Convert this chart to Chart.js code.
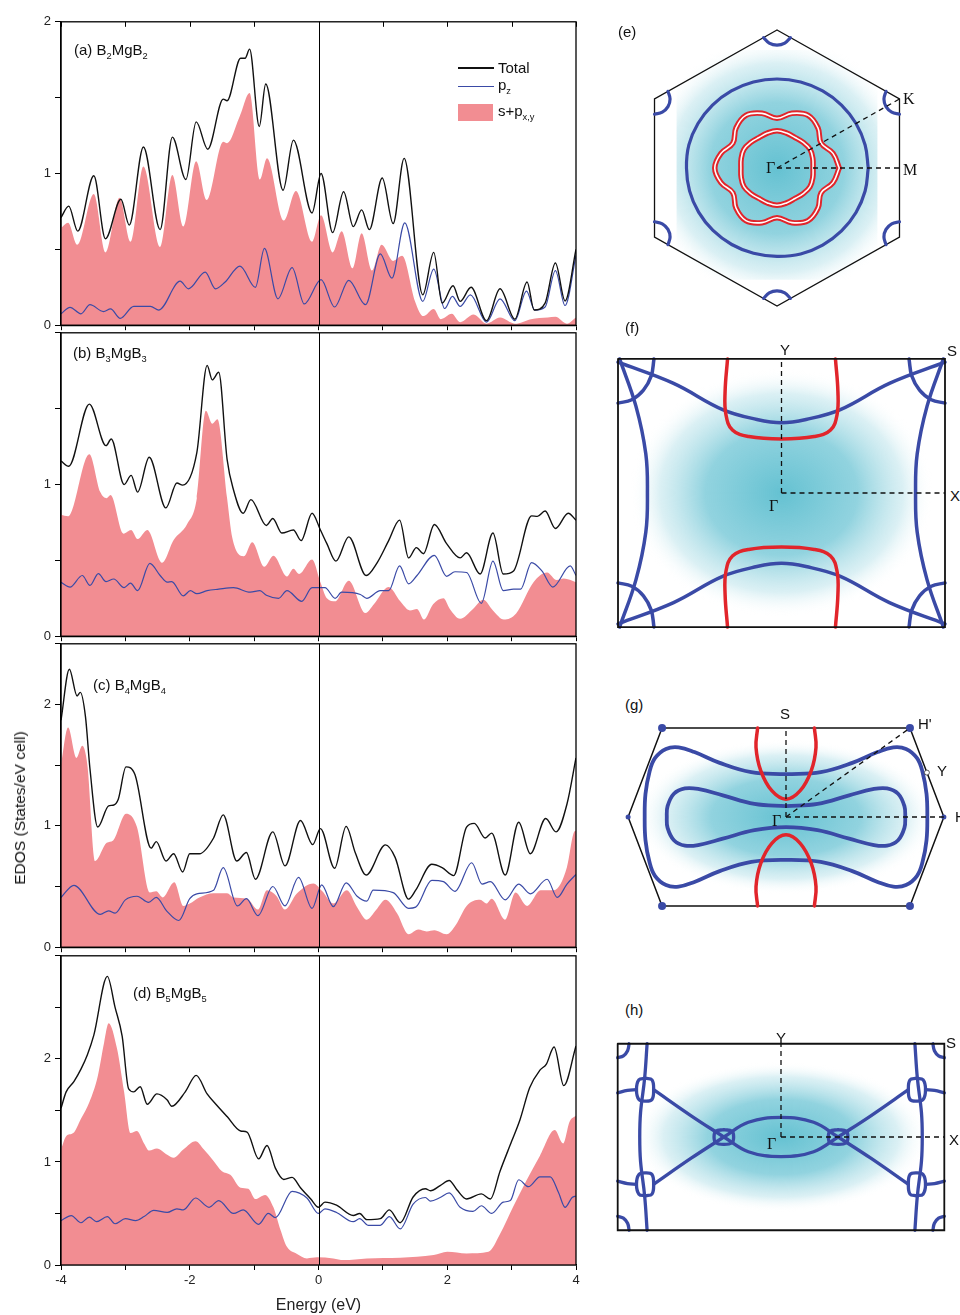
<!DOCTYPE html>
<html>
<head>
<meta charset="utf-8">
<script src="https://cdn.jsdelivr.net/npm/chart.js@4.4.1/dist/chart.umd.min.js"></script>
<style>
  body { margin: 0; background: #fff; }
  #page { position: relative; width: 960px; height: 1315px; overflow: hidden;
          font-family: "Liberation Sans", Arial, sans-serif; color: #111; }
  #page canvas { position: absolute; }
  .lbl { position: absolute; white-space: nowrap; line-height: 16px; font-size: 15px; }
  .lbl sub { font-size: 0.62em; vertical-align: baseline; position: relative; top: 0.38em; }
  .serif { font-family: "Liberation Serif", "Times New Roman", serif; font-size: 16px; }
  .key { position: absolute; }
</style>
</head>
<body>
<div id="page">
  <canvas id="dosA" width="590" height="327" style="left:0;top:10px"></canvas>
  <canvas id="dosB" width="590" height="327" style="left:0;top:321px"></canvas>
  <canvas id="dosC" width="590" height="327" style="left:0;top:632px"></canvas>
  <canvas id="dosD" width="590" height="371" style="left:0;top:944px"></canvas>

  <canvas id="fsE" width="314" height="308" style="left:620px;top:14px"></canvas>
  <canvas id="fsF" width="337" height="280" style="left:613px;top:353px"></canvas>
  <canvas id="fsG" width="338" height="200" style="left:617px;top:717px"></canvas>
  <canvas id="fsH" width="340" height="200" style="left:611px;top:1037px"></canvas>

  <!-- panel titles -->
  <div class="lbl" style="left:74px;top:42px">(a) B<sub>2</sub>MgB<sub>2</sub></div>
  <div class="lbl" style="left:73px;top:345px">(b) B<sub>3</sub>MgB<sub>3</sub></div>
  <div class="lbl" style="left:93px;top:677px">(c) B<sub>4</sub>MgB<sub>4</sub></div>
  <div class="lbl" style="left:133px;top:985px">(d) B<sub>5</sub>MgB<sub>5</sub></div>

  <!-- legend of panel (a) -->
  <div class="key" style="left:458px;top:67px;width:36px;height:1.5px;background:#111"></div>
  <div class="lbl" style="left:498px;top:60px">Total</div>
  <div class="key" style="left:458px;top:86px;width:36px;height:1.3px;background:#3a4aa6"></div>
  <div class="lbl" style="left:498px;top:77px">p<sub>z</sub></div>
  <div class="key" style="left:458px;top:104px;width:35px;height:17px;background:rgb(242,141,146)"></div>
  <div class="lbl" style="left:498px;top:103px">s+p<sub>x,y</sub></div>

  <div class="lbl" style="left:20px;top:808px;font-size:15.5px;transform:translate(-50%,-50%) rotate(-90deg)">EDOS (States/eV cell)</div>

  <!-- Fermi surface labels -->
  <div class="lbl" style="left:618px;top:24px">(e)</div>
  <div class="lbl serif" style="left:903px;top:91px">K</div>
  <div class="lbl serif" style="left:903px;top:162px">M</div>
  <div class="lbl serif" style="left:766px;top:160px">Γ</div>

  <div class="lbl" style="left:625px;top:320px">(f)</div>
  <div class="lbl" style="left:780px;top:342px">Y</div>
  <div class="lbl" style="left:947px;top:343px">S</div>
  <div class="lbl" style="left:950px;top:488px">X</div>
  <div class="lbl serif" style="left:769px;top:498px">Γ</div>

  <div class="lbl" style="left:625px;top:697px">(g)</div>
  <div class="lbl" style="left:780px;top:706px">S</div>
  <div class="lbl" style="left:918px;top:716px">H'</div>
  <div class="lbl" style="left:937px;top:763px">Y</div>
  <div class="lbl" style="left:955px;top:809px">H</div>
  <div class="lbl serif" style="left:772px;top:813px">Γ</div>

  <div class="lbl" style="left:625px;top:1002px">(h)</div>
  <div class="lbl" style="left:776px;top:1030px">Y</div>
  <div class="lbl" style="left:946px;top:1035px">S</div>
  <div class="lbl" style="left:949px;top:1132px">X</div>
  <div class="lbl serif" style="left:767px;top:1136px">Γ</div>
</div>

<script>
// ---------------------------------------------------------------
// DOS curves, [energy (eV), states] pairs
// ---------------------------------------------------------------
const aTotal = [[-4,0.71],[-3.88,0.785],[-3.74,0.62],[-3.49,0.985],[-3.31,0.57],[-3.07,0.83],[-2.94,0.66],[-2.72,1.175],[-2.46,0.63],[-2.27,1.24],[-2.06,0.96],[-1.9,1.34],[-1.72,1.16],[-1.48,1.49],[-1.42,1.48],[-1.21,1.76],[-1.14,1.76],[-1.07,1.82],[-0.92,1.31],[-0.82,1.59],[-0.55,0.89],[-0.39,1.22],[-0.1,0.74],[0.04,1.0],[0.22,0.61],[0.39,0.88],[0.54,0.65],[0.67,0.76],[0.79,0.63],[0.99,0.97],[1.16,0.67],[1.33,1.1],[1.62,0.2],[1.79,0.48],[1.92,0.146],[2.09,0.26],[2.2,0.157],[2.37,0.25],[2.61,0.03],[2.82,0.24],[3.05,0.04],[3.24,0.285],[3.35,0.1],[3.52,0.146],[3.68,0.41],[3.83,0.16],[4,0.5]];
const aPz = [[-4,0.075],[-3.86,0.118],[-3.69,0.075],[-3.55,0.135],[-3.34,0.09],[-3.23,0.107],[-3.08,0.045],[-2.87,0.124],[-2.61,0.124],[-2.48,0.1],[-2.15,0.29],[-2.02,0.24],[-1.76,0.35],[-1.6,0.24],[-1.45,0.285],[-1.22,0.39],[-0.98,0.25],[-0.84,0.506],[-0.63,0.174],[-0.41,0.38],[-0.22,0.14],[0.04,0.3],[0.25,0.12],[0.47,0.296],[0.73,0.135],[0.96,0.47],[1.14,0.31],[1.34,0.675],[1.62,0.157],[1.79,0.37],[1.96,0.11],[2.08,0.19],[2.2,0.124],[2.36,0.2],[2.61,0.02],[2.82,0.174],[3.05,0.03],[3.23,0.225],[3.36,0.1],[3.52,0.12],[3.68,0.36],[3.83,0.13],[4,0.46]];
const aSpxy = [[-4,0.64],[-3.89,0.675],[-3.75,0.53],[-3.49,0.865],[-3.31,0.48],[-3.09,0.84],[-2.92,0.55],[-2.72,1.046],[-2.46,0.516],[-2.27,0.99],[-2.1,0.65],[-1.9,1.08],[-1.74,0.825],[-1.48,1.21],[-1.42,1.2],[-1.22,1.38],[-1.07,1.53],[-0.91,0.96],[-0.8,1.1],[-0.54,0.69],[-0.35,0.885],[-0.1,0.55],[0.04,0.725],[0.22,0.48],[0.36,0.62],[0.53,0.375],[0.67,0.606],[0.83,0.36],[0.98,0.53],[1.16,0.424],[1.3,0.457],[1.5,0.157],[1.63,0.06],[1.79,0.107],[1.9,0.04],[2.07,0.075],[2.2,0.02],[2.41,0.07],[2.61,0.01],[2.82,0.05],[3.05,0.01],[3.3,0.04],[3.56,0.05],[3.68,0.055],[3.86,0.01],[4,0.05]];

const bTotal = [[-4,1.155],[-3.88,1.12],[-3.56,1.53],[-3.3,1.256],[-3.22,1.3],[-3.02,1.0],[-2.91,1.06],[-2.81,0.95],[-2.63,1.18],[-2.37,0.846],[-2.2,1.01],[-2.11,0.996],[-1.89,1.21],[-1.73,1.785],[-1.65,1.69],[-1.55,1.74],[-1.42,1.166],[-1.32,0.964],[-1.17,0.81],[-1.05,0.9],[-0.81,0.73],[-0.71,0.776],[-0.57,0.68],[-0.39,0.7],[-0.27,0.63],[-0.1,0.81],[0.03,0.7],[0.13,0.61],[0.27,0.495],[0.47,0.655],[0.74,0.4],[0.91,0.484],[1.09,0.63],[1.26,0.765],[1.4,0.516],[1.52,0.584],[1.63,0.544],[1.8,0.736],[1.99,0.61],[2.2,0.516],[2.3,0.55],[2.51,0.41],[2.71,0.68],[2.87,0.41],[3.03,0.43],[3.31,0.793],[3.4,0.79],[3.52,0.825],[3.68,0.71],[3.88,0.81],[4,0.765]];
const bPz = [[-4,0.356],[-3.86,0.324],[-3.67,0.4],[-3.55,0.335],[-3.42,0.413],[-3.3,0.36],[-3.18,0.377],[-3.02,0.32],[-2.92,0.35],[-2.81,0.3],[-2.62,0.48],[-2.46,0.4],[-2.35,0.356],[-2.28,0.36],[-2.1,0.266],[-1.99,0.3],[-1.89,0.28],[-1.73,0.3],[-1.55,0.31],[-1.32,0.32],[-1.06,0.29],[-0.91,0.3],[-0.81,0.27],[-0.62,0.25],[-0.49,0.3],[-0.26,0.23],[-0.1,0.32],[0.1,0.32],[0.26,0.25],[0.36,0.29],[0.65,0.275],[0.75,0.25],[0.96,0.3],[1.09,0.3],[1.26,0.463],[1.4,0.345],[1.53,0.4],[1.8,0.533],[1.99,0.395],[2.12,0.425],[2.3,0.42],[2.53,0.217],[2.71,0.495],[2.87,0.3],[3.03,0.31],[3.14,0.31],[3.31,0.485],[3.47,0.43],[3.64,0.324],[3.91,0.463],[4,0.4]];
const bSpxy = [[-4,0.8],[-3.89,0.79],[-3.56,1.2],[-3.39,0.95],[-3.29,0.91],[-3.23,0.93],[-3.03,0.676],[-2.91,0.7],[-2.81,0.64],[-2.66,0.7],[-2.43,0.484],[-2.25,0.634],[-2.04,0.74],[-1.89,0.91],[-1.75,1.486],[-1.65,1.4],[-1.57,1.43],[-1.42,0.91],[-1.34,0.65],[-1.16,0.527],[-1.03,0.62],[-0.84,0.458],[-0.7,0.53],[-0.49,0.394],[-0.39,0.445],[-0.3,0.41],[-0.1,0.505],[0.03,0.356],[0.13,0.25],[0.26,0.23],[0.47,0.366],[0.73,0.153],[0.86,0.21],[1.09,0.324],[1.27,0.23],[1.42,0.17],[1.53,0.18],[1.64,0.11],[1.78,0.21],[1.94,0.25],[2.04,0.18],[2.2,0.115],[2.4,0.18],[2.56,0.24],[2.71,0.17],[2.88,0.11],[3.07,0.15],[3.34,0.356],[3.55,0.42],[3.7,0.37],[3.81,0.38],[4,0.356]];

const cTotal = [[-4,1.87],[-3.87,2.29],[-3.75,2.07],[-3.7,2.1],[-3.62,1.9],[-3.55,1.47],[-3.43,0.99],[-3.26,1.165],[-3.19,1.17],[-3.11,1.22],[-2.99,1.486],[-2.85,1.42],[-2.6,0.816],[-2.52,0.87],[-2.37,0.71],[-2.25,0.77],[-2.11,0.62],[-2.0,0.77],[-1.85,0.77],[-1.63,0.9],[-1.48,1.09],[-1.27,0.71],[-1.12,0.78],[-0.98,0.56],[-0.71,0.95],[-0.52,0.67],[-0.28,1.044],[-0.09,0.845],[0.03,0.977],[0.25,0.65],[0.43,0.996],[0.57,0.78],[0.74,0.595],[1.04,0.843],[1.19,0.74],[1.4,0.396],[1.51,0.47],[1.76,0.683],[1.92,0.655],[2.1,0.59],[2.3,0.99],[2.42,1.02],[2.59,0.9],[2.69,0.94],[2.9,0.595],[3.11,1.03],[3.29,0.77],[3.53,1.06],[3.69,0.95],[3.86,1.18],[4,1.56]];
const cPz = [[-4,0.41],[-3.8,0.51],[-3.39,0.27],[-3.26,0.3],[-3.16,0.28],[-3.0,0.39],[-2.82,0.42],[-2.64,0.37],[-2.52,0.41],[-2.36,0.3],[-2.17,0.22],[-2.0,0.4],[-1.89,0.44],[-1.63,0.47],[-1.48,0.655],[-1.26,0.34],[-1.12,0.4],[-0.94,0.26],[-0.71,0.5],[-0.52,0.34],[-0.31,0.575],[-0.1,0.32],[0.05,0.514],[0.23,0.334],[0.43,0.53],[0.6,0.42],[0.75,0.38],[0.85,0.47],[1.16,0.45],[1.4,0.32],[1.51,0.33],[1.76,0.55],[1.94,0.54],[2.12,0.46],[2.38,0.696],[2.54,0.52],[2.67,0.54],[2.9,0.39],[3.11,0.52],[3.29,0.44],[3.55,0.56],[3.71,0.41],[3.86,0.52],[4,0.6]];
const cSpxy = [[-4,1.5],[-3.89,1.81],[-3.76,1.56],[-3.67,1.66],[-3.59,1.5],[-3.47,0.71],[-3.29,0.86],[-3.19,0.88],[-2.99,1.1],[-2.82,0.99],[-2.62,0.45],[-2.52,0.46],[-2.42,0.41],[-2.24,0.535],[-2.1,0.34],[-2.0,0.36],[-1.85,0.41],[-1.63,0.445],[-1.42,0.445],[-1.32,0.41],[-1.11,0.4],[-0.94,0.31],[-0.8,0.47],[-0.65,0.42],[-0.52,0.31],[-0.34,0.44],[-0.08,0.525],[0.06,0.46],[0.23,0.36],[0.44,0.47],[0.6,0.33],[0.75,0.227],[0.9,0.31],[1.04,0.39],[1.22,0.28],[1.4,0.107],[1.55,0.145],[1.68,0.13],[1.8,0.14],[1.99,0.107],[2.14,0.19],[2.3,0.34],[2.51,0.39],[2.61,0.36],[2.69,0.4],[2.9,0.227],[3.06,0.45],[3.24,0.34],[3.45,0.47],[3.66,0.47],[3.86,0.66],[3.97,0.95],[4,0.96]];

const dTotal = [[-4,1.52],[-3.92,1.68],[-3.8,1.78],[-3.69,1.9],[-3.59,2.04],[-3.49,2.23],[-3.28,2.8],[-3.16,2.5],[-3.05,2.22],[-2.95,1.71],[-2.87,1.68],[-2.77,1.73],[-2.66,1.56],[-2.51,1.66],[-2.35,1.6],[-2.28,1.54],[-2.07,1.68],[-1.9,1.84],[-1.73,1.66],[-1.58,1.55],[-1.42,1.44],[-1.21,1.3],[-1.11,1.29],[-0.93,1.03],[-0.8,1.16],[-0.67,0.94],[-0.54,0.83],[-0.41,0.85],[-0.28,0.75],[-0.12,0.64],[0,0.56],[0.1,0.61],[0.28,0.58],[0.54,0.48],[0.64,0.5],[0.75,0.44],[0.96,0.45],[1.1,0.535],[1.27,0.41],[1.47,0.66],[1.66,0.74],[1.74,0.72],[1.89,0.77],[2.03,0.82],[2.15,0.73],[2.3,0.64],[2.53,0.69],[2.67,0.64],[2.82,0.91],[3.0,1.2],[3.13,1.41],[3.28,1.72],[3.44,1.89],[3.54,1.95],[3.66,2.115],[3.81,1.74],[4,2.125]];
const dPz = [[-4,0.43],[-3.84,0.48],[-3.69,0.41],[-3.56,0.465],[-3.45,0.42],[-3.28,0.47],[-3.16,0.4],[-3.0,0.45],[-2.84,0.43],[-2.71,0.47],[-2.56,0.53],[-2.35,0.51],[-2.2,0.545],[-2.1,0.535],[-1.91,0.65],[-1.7,0.56],[-1.55,0.625],[-1.32,0.5],[-1.17,0.535],[-0.93,0.395],[-0.78,0.5],[-0.67,0.46],[-0.41,0.715],[-0.18,0.65],[0,0.5],[0.1,0.545],[0.28,0.51],[0.54,0.42],[0.64,0.45],[0.77,0.385],[0.96,0.385],[1.1,0.47],[1.27,0.35],[1.47,0.59],[1.66,0.655],[1.74,0.62],[1.89,0.655],[2.03,0.7],[2.2,0.56],[2.4,0.52],[2.53,0.575],[2.69,0.5],[2.87,0.61],[2.98,0.625],[3.11,0.827],[3.26,0.76],[3.44,0.855],[3.6,0.855],[3.73,0.7],[3.83,0.56],[3.94,0.655],[4,0.67]];
const dSpxy = [[-4,1.12],[-3.92,1.25],[-3.81,1.28],[-3.69,1.42],[-3.56,1.58],[-3.43,1.83],[-3.33,2.16],[-3.26,2.345],[-3.13,2.1],[-3.02,1.68],[-2.92,1.28],[-2.82,1.3],[-2.71,1.18],[-2.63,1.11],[-2.51,1.13],[-2.35,1.07],[-2.25,1.04],[-2.1,1.12],[-1.91,1.2],[-1.78,1.12],[-1.63,1.01],[-1.5,0.91],[-1.37,0.875],[-1.21,0.75],[-1.09,0.74],[-0.98,0.64],[-0.83,0.68],[-0.7,0.56],[-0.59,0.34],[-0.49,0.176],[-0.34,0.11],[-0.18,0.064],[-0.02,0.074],[0.23,0.064],[0.39,0.048],[0.75,0.064],[1.27,0.07],[1.79,0.096],[2.0,0.128],[2.3,0.112],[2.64,0.128],[2.82,0.3],[3.02,0.56],[3.23,0.82],[3.44,1.06],[3.67,1.31],[3.8,1.18],[3.9,1.39],[4,1.45]];

const energyRange = [-4, 4];
const yMaxima = [2, 2, 2.5, 3];

// ---------------------------------------------------------------
// Fermi surface contours, in reduced k units (Gamma at 0,0)
// ---------------------------------------------------------------
const eZone = [[0,1],[0.866,0.5],[0.866,-0.5],[0,-1],[-0.866,-0.5],[-0.866,0.5],[0,1]];
const eAngles = [0,15,30,45,60,75,90,105,120,135,150,165,180,195,210,225,240,255,270,285,300,315,330,345];
const eBlueR  = [0.645,0.645,0.645,0.645,0.645,0.645,0.645,0.645,0.645,0.645,0.645,0.645,0.64,0.64,0.64,0.64,0.64,0.64,0.64,0.645,0.645,0.645,0.645,0.645];
const eStarR  = [0.44,0.41,0.36,0.41,0.44,0.41,0.36,0.41,0.44,0.41,0.36,0.41,0.44,0.41,0.36,0.41,0.44,0.41,0.36,0.41,0.44,0.41,0.36,0.41];
const eRingR  = [0.255,0.262,0.27,0.262,0.255,0.262,0.27,0.262,0.255,0.262,0.27,0.262,0.255,0.262,0.27,0.262,0.255,0.262,0.27,0.262,0.255,0.262,0.27,0.262];
const ePathK = [[0,0],[0.866,0.5]];
const ePathM = [[0,0],[0.866,0]];

const fZone = [[-1,0.82],[1,0.82],[1,-0.82],[-1,-0.82],[-1,0.82]];
const fSaddle = [[-1,0.8],[-0.66,0.67],[-0.36,0.51],[-0.15,0.45],[0,0.43],[0.15,0.45],[0.36,0.51],[0.66,0.67],[1,0.8]];
const fSide = [[0.99,0.82],[0.89,0.53],[0.83,0.24],[0.82,0],[0.83,-0.24],[0.89,-0.53],[0.99,-0.82]];
const fRed = [[-0.33,0.82],[-0.345,0.62],[-0.34,0.48],[-0.3,0.385],[-0.2,0.345],[0,0.33],[0.2,0.345],[0.3,0.385],[0.34,0.48],[0.345,0.62],[0.33,0.82]];
const fPathY = [[0,0],[0,0.82]];
const fPathX = [[0,0],[1,0]];

const gZone = [[-0.785,0.575],[0.785,0.575],[1,0],[0.785,-0.575],[-0.785,-0.575],[-1,0],[-0.785,0.575]];
const gOuter = [[0,0.277],[0.22,0.29],[0.42,0.35],[0.58,0.42],[0.68,0.45],[0.76,0.44],[0.83,0.38],[0.865,0.29],[0.89,0.15],[0.895,0],[0.89,-0.15],[0.865,-0.29],[0.83,-0.38],[0.76,-0.44],[0.68,-0.45],[0.58,-0.42],[0.42,-0.35],[0.22,-0.29],[0,-0.277],[-0.22,-0.29],[-0.42,-0.35],[-0.58,-0.42],[-0.68,-0.45],[-0.76,-0.44],[-0.83,-0.38],[-0.865,-0.29],[-0.89,-0.15],[-0.895,0],[-0.89,0.15],[-0.865,0.29],[-0.83,0.38],[-0.76,0.44],[-0.68,0.45],[-0.58,0.42],[-0.42,0.35],[-0.22,0.29],[0,0.277]];
const gInner = [[0,0.07],[0.2,0.085],[0.4,0.14],[0.55,0.18],[0.64,0.185],[0.71,0.15],[0.75,0.07],[0.755,0],[0.75,-0.07],[0.71,-0.15],[0.64,-0.185],[0.55,-0.18],[0.4,-0.14],[0.2,-0.085],[0,-0.065],[-0.2,-0.085],[-0.4,-0.14],[-0.55,-0.18],[-0.64,-0.185],[-0.71,-0.15],[-0.75,-0.07],[-0.755,0],[-0.75,0.07],[-0.71,0.15],[-0.64,0.185],[-0.55,0.18],[-0.4,0.14],[-0.2,0.085],[0,0.07]];
const gRed = [[-0.18,0.575],[-0.19,0.45],[-0.16,0.3],[-0.09,0.17],[0,0.115],[0.09,0.17],[0.16,0.3],[0.19,0.45],[0.18,0.575]];
const gCornerDots = [[-0.785,0.575],[0.785,0.575],[0.785,-0.575],[-0.785,-0.575]];
const gSideDots = [[1,0],[-1,0]];
const gPointY = [[0.8925,0.287]];
const gPathS = [[0,0],[0,0.575]];
const gPathH = [[0,0],[1,0]];
const gPathH2 = [[0,0],[0.785,0.575]];

const hZone = [[-1,0.571],[1,0.571],[1,-0.571],[-1,-0.571],[-1,0.571]];
const hLens = [[-0.35,0],[-0.2,0.09],[0,0.12],[0.2,0.09],[0.35,0]];
const hArm = [[-0.35,0],[-0.55,0.13],[-0.78,0.29]];
const hNodeLoop = [[-0.35,0.045],[-0.3,0.035],[-0.29,0],[-0.3,-0.035],[-0.35,-0.045],[-0.4,-0.035],[-0.41,0],[-0.4,0.035],[-0.35,0.045]];
const hWallLoop = [[-0.83,0.36],[-0.79,0.35],[-0.78,0.29],[-0.79,0.23],[-0.83,0.22],[-0.87,0.23],[-0.885,0.29],[-0.87,0.35],[-0.83,0.36]];
const hWall = [[-0.82,0.571],[-0.835,0.36],[-0.86,0.15],[-0.865,0],[-0.86,-0.15],[-0.835,-0.36],[-0.82,-0.571]];
const hEdgeLink = [[-1,0.27],[-0.94,0.285],[-0.885,0.29]];
const hPathY = [[0,0],[0,0.571]];
const hPathX = [[0,0],[1,0]];

// ---------------------------------------------------------------
// helpers
// ---------------------------------------------------------------
const BLUE = '#3a4aa6';
const RED = '#e1252b';
const PINK = 'rgb(242,141,146)';
const RAD = Math.PI / 180;

Chart.defaults.font.family = '"Liberation Sans", Arial, sans-serif';
Chart.defaults.animation = false;

const toXY = pts => pts.map(p => ({ x: p[0], y: p[1] }));
const flipX = pts => pts.map(p => [-p[0], p[1]]);
const flipY = pts => pts.map(p => [p[0], -p[1]]);
const closed = pts => pts.concat([pts[0]]);
const polar = (angles, radii) => angles.map((a, i) => [radii[i] * Math.cos(a * RAD), radii[i] * Math.sin(a * RAD)]);

// box round the plot area + the E = 0 line on top of the fill
const framePlugin = {
    id: 'frame',
    afterDatasetsDraw(chart, args, opts) {
        const { ctx, chartArea: a, scales: { x } } = chart;
        ctx.save();
        ctx.strokeStyle = '#000';
        ctx.lineWidth = 1;
        const x0 = Math.round(x.getPixelForValue(0)) + 0.5;
        ctx.beginPath();
        ctx.moveTo(x0, a.top);
        ctx.lineTo(x0, a.bottom);
        ctx.stroke();
        if (opts.topTicks) {
            x.ticks.forEach(t => {
                const px = Math.round(x.getPixelForValue(t.value)) + 0.5;
                ctx.beginPath();
                ctx.moveTo(px, a.top);
                ctx.lineTo(px, a.top + 5);
                ctx.stroke();
            });
        }
        ctx.lineWidth = 1.3;
        ctx.strokeRect(a.left, a.top, a.right - a.left, a.bottom - a.top);
        ctx.restore();
    }
};

// cyan glow round Gamma
const glowPlugin = {
    id: 'glow',
    beforeDatasetsDraw(chart, args, opts) {
        if (!opts || !opts.rx) return;
        const { ctx, scales: { x, y } } = chart;
        const cx = x.getPixelForValue(0), cy = y.getPixelForValue(0);
        const rx = Math.abs(x.getPixelForValue(opts.rx) - cx);
        const ry = Math.abs(y.getPixelForValue(opts.ry) - cy);
        const c = opts.clip;
        const x0 = x.getPixelForValue(c[0]), x1 = x.getPixelForValue(c[1]);
        const y0 = y.getPixelForValue(c[3]), y1 = y.getPixelForValue(c[2]);
        ctx.save();
        ctx.beginPath();
        ctx.rect(x0, y0, x1 - x0, y1 - y0);
        ctx.clip();
        ctx.translate(cx, cy);
        ctx.scale(1, ry / rx);
        const g = ctx.createRadialGradient(0, 0, 0, 0, 0, rx);
        g.addColorStop(0, 'rgba(92,190,207,0.95)');
        g.addColorStop(0.5, 'rgba(118,200,215,0.8)');
        g.addColorStop(0.8, 'rgba(175,222,231,0.45)');
        g.addColorStop(1, 'rgba(255,255,255,0)');
        ctx.fillStyle = g;
        ctx.fillRect(-rx, -rx, 2 * rx, 2 * rx);
        ctx.restore();
    }
};

function dosChart(id, total, pz, spxy, yMax, opts) {
    const el = document.getElementById(id);
    return new Chart(el, {
        type: 'line',
        data: {
            datasets: [
                { data: toXY(total), borderColor: '#111', borderWidth: 1.4, pointRadius: 0,
                  cubicInterpolationMode: 'monotone', fill: false, order: 1 },
                { data: toXY(pz), borderColor: BLUE, borderWidth: 1.2, pointRadius: 0,
                  cubicInterpolationMode: 'monotone', fill: false, order: 2 },
                { data: toXY(spxy), borderColor: 'rgba(0,0,0,0)', borderWidth: 0, pointRadius: 0,
                  backgroundColor: PINK, cubicInterpolationMode: 'monotone', fill: 'origin', order: 3 }
            ]
        },
        options: {
            responsive: false,
            events: [],
            layout: { padding: { top: 10, right: 14, left: 0, bottom: 0 } },
            plugins: { legend: { display: false }, tooltip: { enabled: false },
                       frame: { topTicks: !!opts.topTicks } },
            scales: {
                x: {
                    type: 'linear', min: energyRange[0], max: energyRange[1],
                    afterFit: s => { s.height = opts.xHeight; },
                    grid: { drawOnChartArea: false, tickLength: 5, tickColor: '#000' },
                    border: { display: true, color: '#000', width: 1.3 },
                    ticks: {
                        stepSize: 1, autoSkip: false, maxRotation: 0, padding: 3,
                        color: '#222', font: { size: 13 },
                        callback: v => (opts.xLabels && v % 2 === 0) ? String(v) : ''
                    },
                    title: opts.xLabels
                        ? { display: true, text: 'Energy (eV)', color: '#222', font: { size: 16 }, padding: { top: 0, bottom: 0 } }
                        : { display: false }
                },
                y: {
                    min: 0, max: yMax,
                    afterFit: s => { s.width = 61; },
                    grid: { drawOnChartArea: false, tickLength: 6, tickColor: '#000' },
                    border: { display: true, color: '#000', width: 1.3 },
                    ticks: {
                        stepSize: 0.5, padding: 4, color: '#222', font: { size: 13 },
                        callback: v => (Number.isInteger(v) && (opts.topLabel || v < yMax)) ? String(v) : ''
                    }
                }
            }
        },
        plugins: [framePlugin]
    });
}

function curve(pts, color, width, extra) {
    return Object.assign({
        data: toXY(pts), showLine: true, borderColor: color, borderWidth: width,
        pointRadius: 0, tension: 0.4, fill: false, borderCapStyle: 'round'
    }, extra || {});
}
function dashed(pts) {
    return curve(pts, '#111', 1.3, { tension: 0, borderDash: [5, 4], borderCapStyle: 'butt' });
}
function dots(pts, color, r, extra) {
    return Object.assign({ data: toXY(pts), showLine: false, pointRadius: r,
        pointBackgroundColor: color, pointBorderWidth: 0 }, extra || {});
}

function zoneChart(id, xr, yr, datasets, glow) {
    datasets.forEach((d, i) => { d.order = datasets.length - i; });
    return new Chart(document.getElementById(id), {
        type: 'scatter',
        data: { datasets },
        options: {
            responsive: false,
            events: [],
            layout: { padding: 0 },
            plugins: { legend: { display: false }, tooltip: { enabled: false }, glow },
            scales: {
                x: { display: false, min: -xr, max: xr },
                y: { display: false, min: -yr, max: yr }
            }
        },
        plugins: [glowPlugin]
    });
}

// ---------------------------------------------------------------
// DOS panels
// ---------------------------------------------------------------
dosChart('dosA', aTotal, aPz, aSpxy, yMaxima[0], { xHeight: 6, topLabel: true, topTicks: true });
dosChart('dosB', bTotal, bPz, bSpxy, yMaxima[1], { xHeight: 6 });
dosChart('dosC', cTotal, cPz, cSpxy, yMaxima[2], { xHeight: 6 });
dosChart('dosD', dTotal, dPz, dSpxy, yMaxima[3], { xHeight: 50, xLabels: true });

// ---------------------------------------------------------------
// (e) hexagonal zone
// ---------------------------------------------------------------
const eArcR = 0.11;
const eArcs = eZone.slice(0, 6).map(([vx, vy]) => {
    const phi = Math.atan2(vy, vx) / RAD + 180;
    return [-60, -30, 0, 30, 60].map(d => [vx + eArcR * Math.cos((phi + d) * RAD), vy + eArcR * Math.sin((phi + d) * RAD)]);
});
const eStar = closed(polar(eAngles, eStarR));
const eRing = closed(polar(eAngles, eRingR));
zoneChart('fsE', 1.11, 1.116, [
    curve(eZone, '#111', 1.3, { tension: 0 }),
    curve(closed(polar(eAngles, eBlueR)), BLUE, 3.2),
    ...eArcs.map(a => curve(a, BLUE, 3.2)),
    curve(eStar, RED, 5.5),
    curve(eStar, '#fff', 1.6),
    curve(eRing, RED, 5.5),
    curve(eRing, '#fff', 1.6),
    dashed(ePathK),
    dashed(ePathM)
], { rx: 0.95, ry: 0.95, clip: [-0.71, 0.71, -0.81, 0.855] });

// ---------------------------------------------------------------
// (f) rectangular zone
// ---------------------------------------------------------------
const fArcs = [[-1, 0.82], [1, 0.82], [1, -0.82], [-1, -0.82]].map(([cx, cy]) =>
    [0, 22.5, 45, 67.5, 90].map(t => [cx - Math.sign(cx) * 0.22 * Math.cos(t * RAD), cy - Math.sign(cy) * 0.27 * Math.sin(t * RAD)]));
zoneChart('fsF', 1.0306, 0.8563, [
    curve(fSaddle, BLUE, 3.5),
    curve(flipY(fSaddle), BLUE, 3.5),
    curve(fSide, BLUE, 3.5),
    curve(flipX(fSide), BLUE, 3.5),
    ...fArcs.map(a => curve(a, BLUE, 3.5)),
    curve(fRed, RED, 3.5),
    curve(flipY(fRed), RED, 3.5),
    curve(fZone, '#111', 1.8, { tension: 0 }),
    dashed(fPathY),
    dashed(fPathX)
], { rx: 0.93, ry: 0.76, clip: [-0.92, 0.92, -0.76, 0.76] });

// ---------------------------------------------------------------
// (g) elongated hexagonal zone
// ---------------------------------------------------------------
zoneChart('fsG', 1.04, 0.6154, [
    curve(gZone, '#111', 1.5, { tension: 0 }),
    curve(gOuter, BLUE, 3.8),
    curve(gInner, BLUE, 3.8),
    curve(gRed, RED, 3.5),
    curve(flipY(gRed), RED, 3.5),
    dots(gCornerDots, BLUE, 4),
    dots(gSideDots, BLUE, 2.5),
    dots(gPointY, '#fff', 2.5, { pointBorderWidth: 0.8, pointBorderColor: '#333' }),
    dashed(gPathS),
    dashed(gPathH),
    dashed(gPathH2)
], { rx: 0.95, ry: 0.5, clip: [-0.88, 0.88, -0.52, 0.52] });

// ---------------------------------------------------------------
// (h) rectangular zone
// ---------------------------------------------------------------
const hArcs = [[-1, 0.571], [1, 0.571], [1, -0.571], [-1, -0.571]].map(([cx, cy]) =>
    [0, 30, 60, 90].map(t => [cx - Math.sign(cx) * 0.07 * Math.cos(t * RAD), cy - Math.sign(cy) * 0.085 * Math.sin(t * RAD)]));
const hBlue = [
    hLens, flipY(hLens),
    hArm, flipY(hArm), flipX(hArm), flipX(flipY(hArm)),
    hNodeLoop, flipX(hNodeLoop),
    hWallLoop, flipY(hWallLoop), flipX(hWallLoop), flipX(flipY(hWallLoop)),
    hWall, flipX(hWall),
    hEdgeLink, flipY(hEdgeLink), flipX(hEdgeLink), flipX(flipY(hEdgeLink)),
    ...hArcs
];
zoneChart('fsH', 1.041, 0.6124, [
    ...hBlue.map(p => curve(p, BLUE, 3.3)),
    curve(hZone, '#111', 1.8, { tension: 0 }),
    dashed(hPathY),
    dashed(hPathX)
], { rx: 0.9, ry: 0.46, clip: [-0.86, 0.86, -0.5, 0.5] });
</script>
</body>
</html>
